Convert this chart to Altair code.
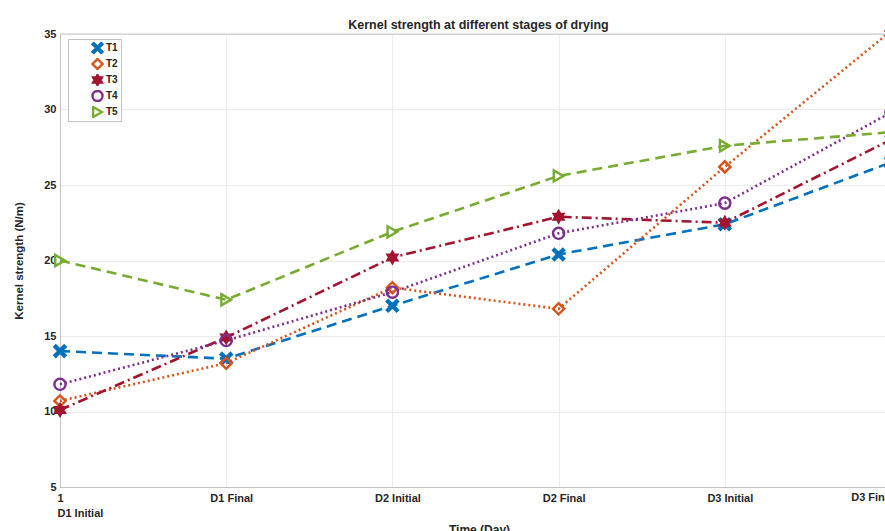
import json
import altair as alt
import pandas as pd

# ---------------- data ----------------
stages = ["D1 Initial", "D1 Final", "D2 Initial", "D2 Final", "D3 Initial", "D3 Final"]
series_names = ["T1", "T2", "T3", "T4", "T5"]
t1 = [14.0, 13.5, 17.0, 20.4, 22.4, 26.5]
t2 = [10.7, 13.2, 18.2, 16.8, 26.2, 35.2]
t3 = [10.1, 14.9, 20.2, 22.9, 22.5, 28.0]
t4 = [11.8, 14.7, 17.9, 21.8, 23.8, 29.8]
t5 = [20.0, 17.4, 21.9, 25.6, 27.6, 28.5]
y_ticks = [5, 10, 15, 20, 25, 30, 35]

# ---------------- styles ----------------
colors = ["#0072BD", "#D95319", "#A2142F", "#7E2F8E", "#77AC30"]
fills = ["#0072BD", "transparent", "#A2142F", "transparent", "transparent"]
dashes = [[10, 6], [2, 3], [10, 4, 2, 4], [2, 3], [10, 6]]
X_PATH = ("M-1,-0.75 L-0.75,-1 L0,-0.25 L0.75,-1 L1,-0.75 L0.25,0 L1,0.75 "
          "L0.75,1 L0,0.25 L-0.75,1 L-1,0.75 L-0.25,0 Z")
HEX_PATH = ("M0,-1 L0.289,-0.5 L0.866,-0.5 L0.577,0 L0.866,0.5 L0.289,0.5 "
            "L0,1 L-0.289,0.5 L-0.866,0.5 L-0.577,0 L-0.866,-0.5 L-0.289,-0.5 Z")
shapes = [X_PATH, "diamond", HEX_PATH, "circle", "triangle-right"]
FONT = "Liberation Sans"
TXT = "#262626"
AXC = "#c4c4c4"

rows = []
for name, vals in zip(series_names, [t1, t2, t3, t4, t5]):
    for i, v in enumerate(vals):
        rows.append({"series": name, "idx": i, "stage": stages[i], "value": v})
df = pd.DataFrame(rows)

W, H = 825, 453
x_end = 5 * W / 831.0

label_expr = ("datum.value == 0 ? ['1', '" + stages[0] + "'] : "
              + json.dumps(stages).replace('"', "'") + "[datum.value]")

x_enc = alt.X(
    "idx:Q",
    scale=alt.Scale(domain=[0, x_end], nice=False, zero=False),
    axis=alt.Axis(values=[0, 1, 2, 3, 4], labelExpr=label_expr, labelFlush=1,
                  labelFlushOffset=8, labelOffset=5,
                  title="Time (Day)", grid=True, labelPadding=5,
                  labelLineHeight=15, titlePadding=6, titleX=419, titleFontSize=12),
)
y_enc = alt.Y(
    "value:Q",
    scale=alt.Scale(domain=[5, 35], nice=False, zero=False),
    axis=alt.Axis(values=y_ticks, title="Kernel strength (N/m)", grid=True,
                  labelPadding=4, titlePadding=19, titleFontSize=11.5),
)

leg = alt.Legend(title=None, clipHeight=12)

line_layers = []
for i, name in enumerate(series_names):
    line_layers.append(
        alt.Chart(df).transform_filter(alt.datum.series == name)
        .mark_line(strokeWidth=2.6, color=colors[i], strokeDash=dashes[i])
        .encode(x=x_enc, y=y_enc)
    )

points = alt.Chart(df).mark_point(strokeWidth=2.4, size=125, opacity=1).encode(
    x=x_enc, y=y_enc,
    stroke=alt.Stroke("series:N", scale=alt.Scale(domain=series_names, range=colors), legend=leg),
    fill=alt.Fill("series:N", scale=alt.Scale(domain=series_names, range=fills), legend=leg),
    shape=alt.Shape("series:N", scale=alt.Scale(domain=series_names, range=shapes), legend=leg),
)

top_border = alt.Chart(pd.DataFrame({"v": [35]})).mark_rule(color=AXC, strokeWidth=1).encode(
    y=alt.datum(35)
)

end_df = pd.DataFrame({"idx": [5], "label": [stages[5]]})
end_label = alt.Chart(end_df).mark_text(
    align="right", baseline="top", dy=5, dx=3, font=FONT, fontSize=11, fontWeight="bold", color=TXT
).encode(
    x=x_enc,
    y=alt.datum(5),
    text="label:N",
)

chart = alt.layer(*line_layers, points, top_border, end_label).properties(
    width=W, height=H,
    autosize=alt.AutoSizeParams(type="none"),
    padding={"left": 60, "top": 34, "right": 0, "bottom": 44},
    title=alt.Title("Kernel strength at different stages of drying", font=FONT, fontSize=12.5,
                    fontWeight="bold", color=TXT, offset=3, dx=6, dy=14, frame="group"),
    background="white",
).configure_view(stroke=None).configure_axis(
    domainColor=AXC, gridColor="#ebebeb", ticks=False,
    labelFont=FONT, labelFontSize=11, labelFontWeight="bold", labelColor=TXT,
    titleFont=FONT, titleFontSize=11, titleFontWeight="bold", titleColor=TXT,
).configure_legend(
    orient="none", legendX=8, legendY=5, padding=3, strokeColor="#c0c0c0", fillColor="white",
    labelFont=FONT, labelFontSize=10, labelFontWeight="bold", labelColor=TXT,
    symbolSize=100, symbolStrokeWidth=2.4, rowPadding=4, symbolOffset=20, labelOffset=2,
)

chart.save("out.html", embed_options={"renderer": "svg", "actions": False})
